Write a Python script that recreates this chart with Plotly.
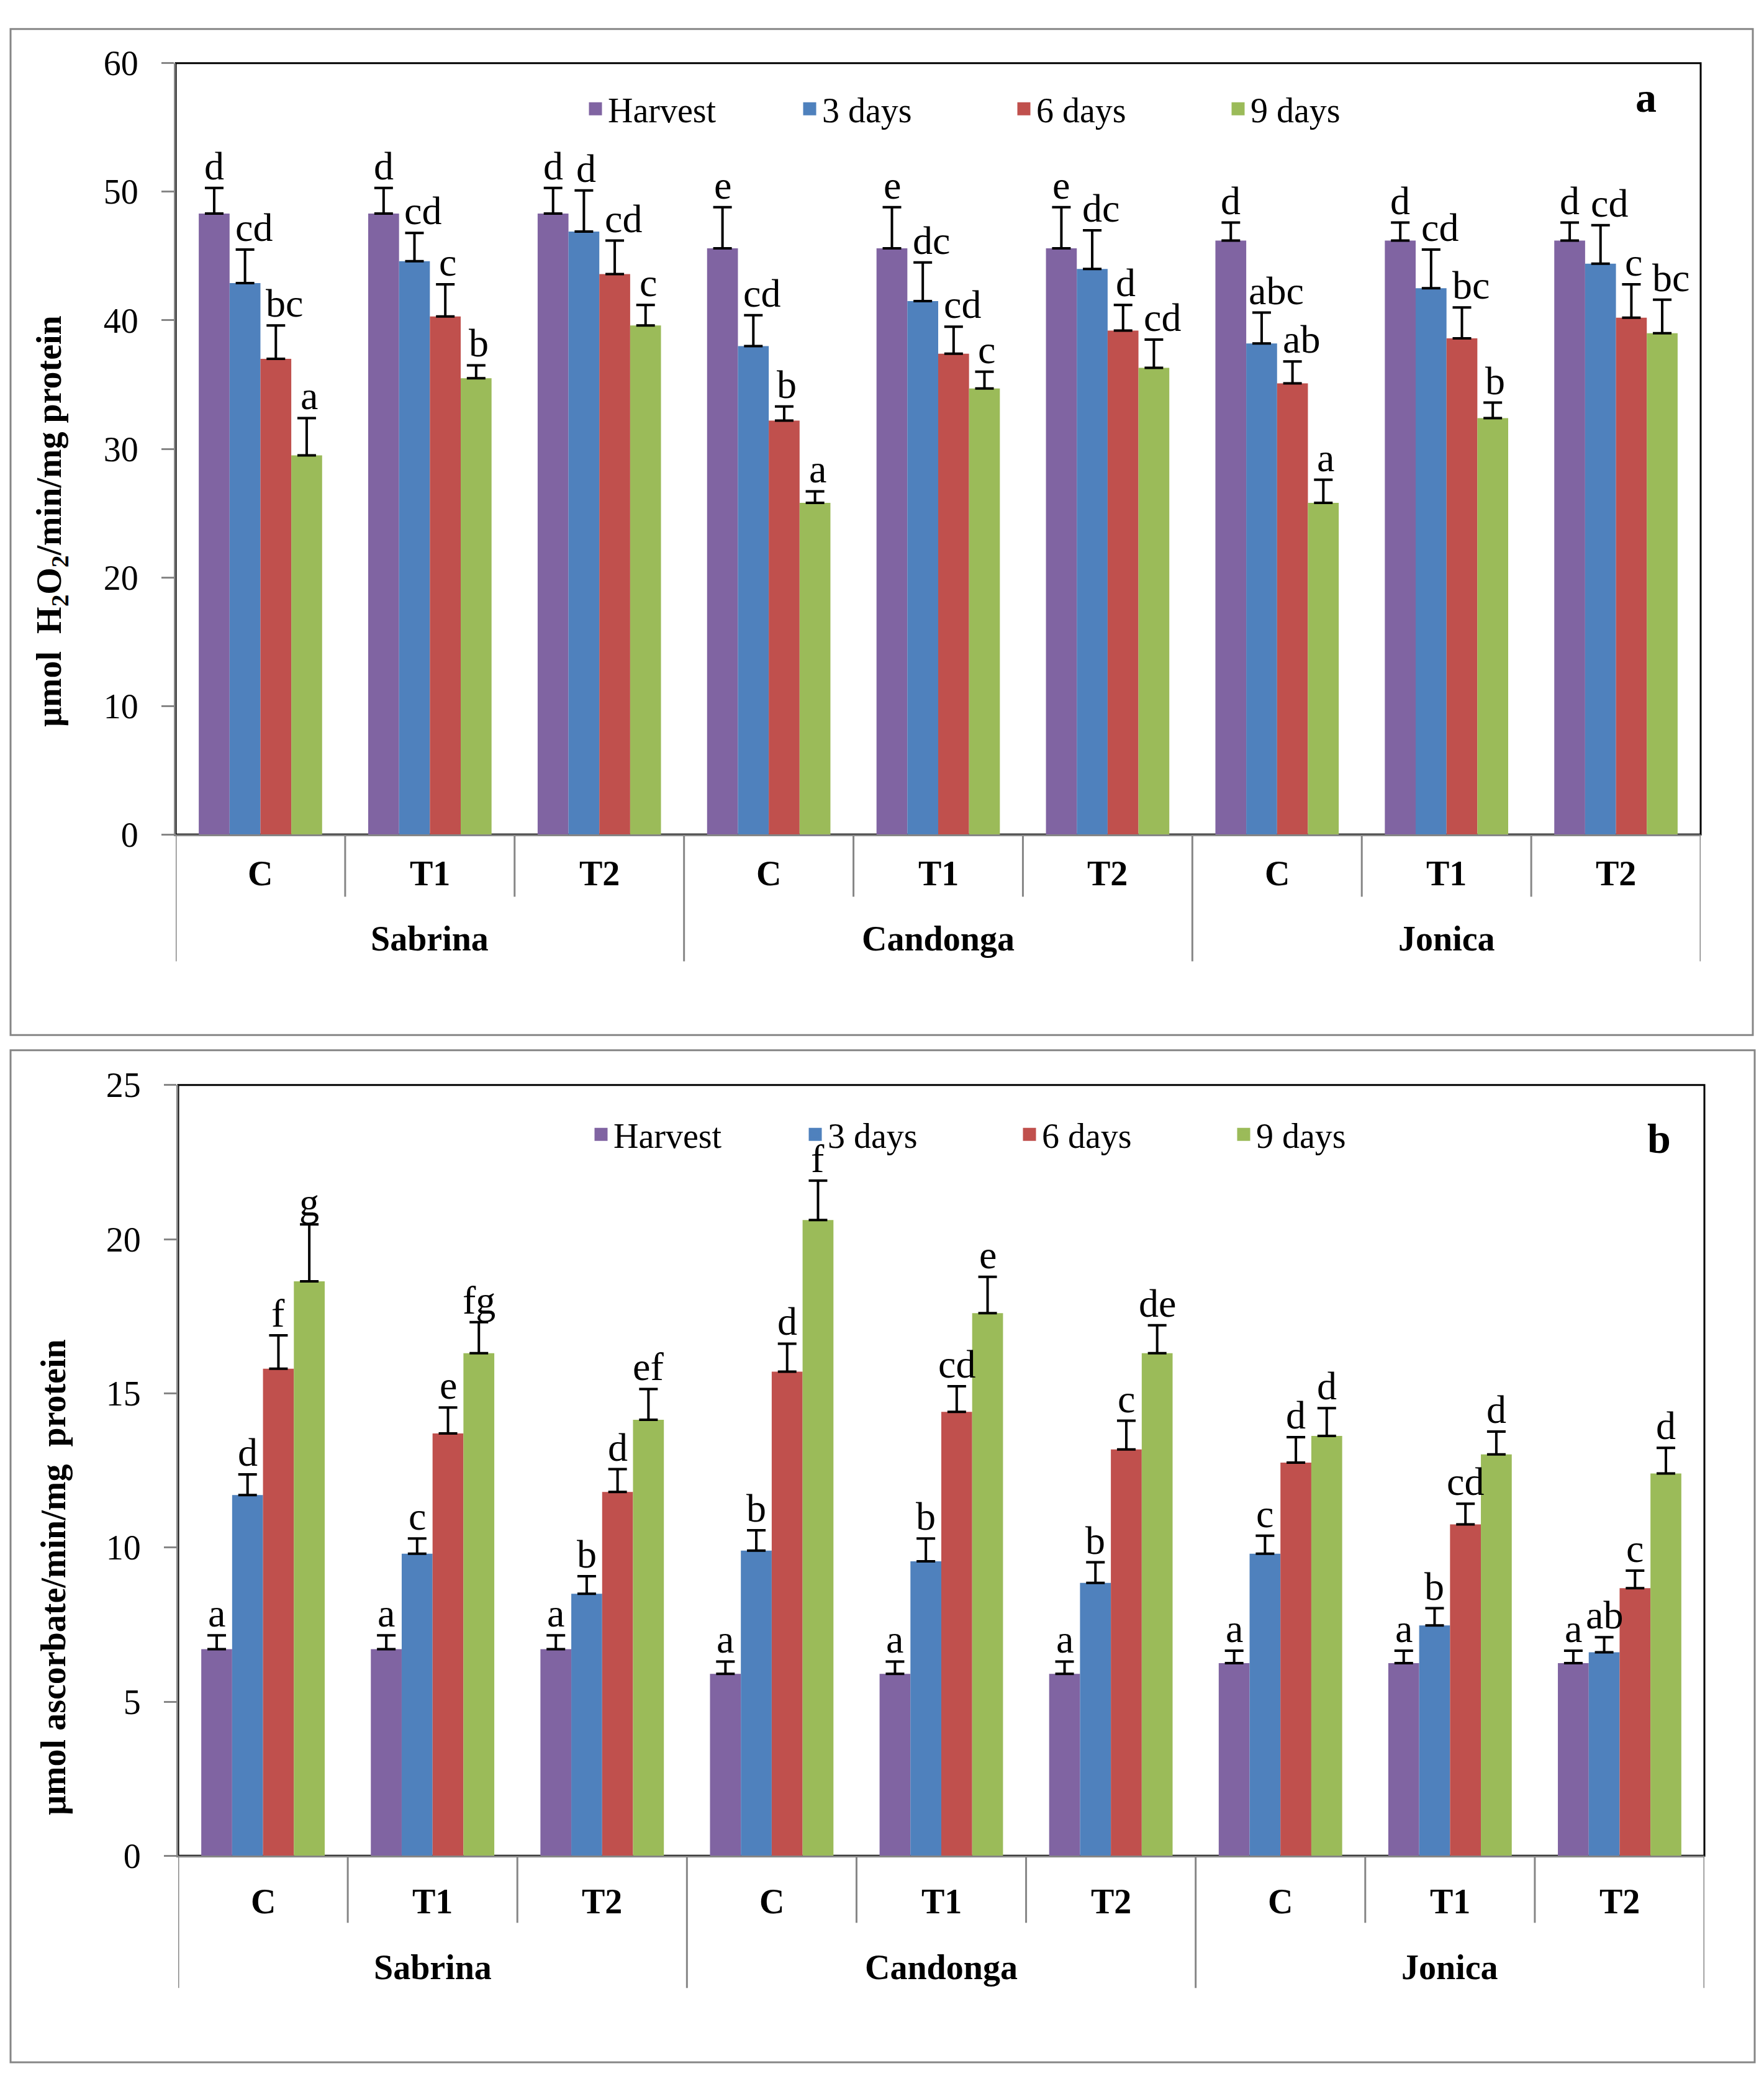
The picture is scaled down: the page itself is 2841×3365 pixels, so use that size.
import plotly.graph_objects as go

# ---------------- data ----------------
varieties = ["Sabrina", "Candonga", "Jonica"]
treatments = ["C", "T1", "T2"]
series_names = ["Harvest", "3 days", "6 days", "9 days"]

# Panel a : umol H2O2/min/mg protein
a_harvest = [48.3, 48.3, 48.3, 45.6, 45.6, 45.6, 46.2, 46.2, 46.2]
a_3days   = [42.9, 44.6, 46.9, 38.0, 41.5, 44.0, 38.2, 42.5, 44.4]
a_6days   = [37.0, 40.3, 43.6, 32.2, 37.4, 39.2, 35.1, 38.6, 40.2]
a_9days   = [29.5, 35.5, 39.6, 25.8, 34.7, 36.3, 25.8, 32.4, 39.0]
a_err_harvest = [2.0, 2.0, 2.0, 3.2, 3.2, 3.2, 1.4, 1.4, 1.4]
a_err_3days   = [2.6, 2.2, 3.2, 2.4, 3.0, 3.0, 2.4, 3.0, 3.0]
a_err_6days   = [2.6, 2.5, 2.6, 1.1, 2.1, 2.0, 1.7, 2.4, 2.6]
a_err_9days   = [2.9, 1.0, 1.6, 0.9, 1.3, 2.2, 1.8, 1.2, 2.6]
a_let_harvest = ["d", "d", "d", "e", "e", "e", "d", "d", "d"]
a_let_3days   = ["cd", "cd", "d", "cd", "dc", "dc", "abc", "cd", "cd"]
a_let_6days   = ["bc", "c", "cd", "b", "cd", "d", "ab", "bc", "c"]
a_let_9days   = ["a", "b", "c", "a", "c", "cd", "a", "b", "bc"]

# Panel b : umol ascorbate/min/mg protein
b_harvest = [6.7, 6.7, 6.7, 5.9, 5.9, 5.9, 6.25, 6.25, 6.25]
b_3days   = [11.7, 9.8, 8.5, 9.9, 9.55, 8.85, 9.8, 7.47, 6.6]
b_6days   = [15.8, 13.7, 11.8, 15.7, 14.4, 13.18, 12.75, 10.75, 8.68]
b_9days   = [18.63, 16.3, 14.14, 20.62, 17.6, 16.3, 13.62, 13.02, 12.4]
b_err_harvest = [0.45, 0.45, 0.45, 0.4, 0.4, 0.4, 0.4, 0.4, 0.4]
b_err_3days   = [0.67, 0.49, 0.57, 0.66, 0.74, 0.67, 0.58, 0.56, 0.49]
b_err_6days   = [1.08, 0.84, 0.74, 0.91, 0.83, 0.93, 0.83, 0.67, 0.57]
b_err_9days   = [1.85, 1.01, 1.0, 1.28, 1.18, 0.91, 0.9, 0.74, 0.83]
b_let_harvest = ["a"] * 9
b_let_3days   = ["d", "c", "b", "b", "b", "b", "c", "b", "ab"]
b_let_6days   = ["f", "e", "d", "d", "cd", "c", "d", "cd", "c"]
b_let_9days   = ["g", "fg", "ef", "f", "e", "de", "d", "d", "d"]

y_ticks_a = [0, 10, 20, 30, 40, 50, 60]
y_ticks_b = [0, 5, 10, 15, 20, 25]

# ---------------- styling ----------------
PAGE_W, PAGE_H = 2841, 3365
BODY_MARGIN = 8                      # default <body> margin of the written page
W, H = PAGE_W - 2 * BODY_MARGIN, PAGE_H - 2 * BODY_MARGIN
colors = ["#8064A2", "#4F81BD", "#C0504D", "#9BBB59"]
GRAY = "#868686"
FONT = "Liberation Serif"
BARGAP = 0.272

categories = [f"{v} {t}" for v in varieties for t in treatments]


def py(y):
    return 1 - (y - BODY_MARGIN) / H


def px(x):
    return (x - BODY_MARGIN) / W


panels = [
    dict(xa="x", ya="y", xd=[283, 2739], yd=[73, 1339], yr=[0, 60], ticks=y_ticks_a,
         vals=[a_harvest, a_3days, a_6days, a_9days],
         errs=[a_err_harvest, a_err_3days, a_err_6days, a_err_9days],
         lets=[a_let_harvest, a_let_3days, a_let_6days, a_let_9days],
         legend="legend", leg_x=939, leg_y=148, tag="a", tag_xy=(2651, 129),
         title="μmol\u00a0\u00a0H<sub>2</sub>O<sub>2</sub>/min/mg protein", title_xy=(83, 825),
         lab_y=1403, grp_y=1510, inner_bot=1441, outer_bot=1547, frame=(17, 17, 2823, 1668),
         shift_a=True),
    dict(xa="x2", ya="y2", xd=[287, 2745], yd=[1750, 3015], yr=[0, 25], ticks=y_ticks_b,
         vals=[b_harvest, b_3days, b_6days, b_9days],
         errs=[b_err_harvest, b_err_3days, b_err_6days, b_err_9days],
         lets=[b_let_harvest, b_let_3days, b_let_6days, b_let_9days],
         legend="legend2", leg_x=948, leg_y=1831, tag="b", tag_xy=(2672, 1838),
         title="μmol ascorbate/min/mg\u00a0\u00a0protein", title_xy=(86, 2558),
         lab_y=3090, grp_y=3198, inner_bot=3125, outer_bot=3232, frame=(17, 1693, 2826, 3354),
         shift_a=False),
]

fig = go.Figure()
annotations = []
shapes = []

for p in panels:
    plot_w = p["xd"][1] - p["xd"][0]
    bar_w = plot_w / 9 * (1 - BARGAP) / 4
    for i in range(4):
        fig.add_trace(go.Bar(
            x=categories, y=p["vals"][i], name=series_names[i],
            marker=dict(color=colors[i], line=dict(width=0)),
            error_y=dict(type="data", array=p["errs"][i], arrayminus=[0] * 9,
                         symmetric=False, color="black", thickness=4, width=15),
            showlegend=False, xaxis=p["xa"], yaxis=p["ya"],
        ))
        # legend proxies
        fig.add_trace(go.Scatter(
            x=[None], y=[None], mode="markers", name=series_names[i],
            marker=dict(symbol="square", size=16, color=colors[i],
                        line=dict(color=colors[i], width=5)),
            legend=p["legend"], xaxis=p["xa"], yaxis=p["ya"], hoverinfo="skip",
        ))
        # significance letters
        for j, cat in enumerate(categories):
            lab = p["lets"][i][j]
            extra = (4 + 10 * (len(lab) - 1)) if (p["shift_a"] and i > 0) else 0
            annotations.append(dict(
                x=cat, y=p["vals"][i][j] + p["errs"][i][j], xref=p["xa"], yref=p["ya"],
                text=lab, showarrow=False, yanchor="bottom", xanchor="center",
                xshift=(i - 1.5) * bar_w + extra, yshift=-2,
                font=dict(family=FONT, size=64, color="black"),
            ))

    # treatment and variety labels
    for j, cat in enumerate(categories):
        annotations.append(dict(
            x=cat, y=py(p["lab_y"]), xref=p["xa"], yref="paper", text=treatments[j % 3],
            showarrow=False, yanchor="middle",
            font=dict(family=FONT, size=56, color="black", weight="bold")))
    for k, v in enumerate(varieties):
        annotations.append(dict(
            x=categories[3 * k + 1], y=py(p["grp_y"]), xref=p["xa"], yref="paper", text=v,
            showarrow=False, yanchor="middle",
            font=dict(family=FONT, size=56, color="black", weight="bold")))

    # separators
    for b in [0.5, 1.5, 3.5, 4.5, 6.5, 7.5]:
        shapes.append(dict(type="line", xref=p["xa"], yref="paper", x0=b, x1=b,
                           y0=py(p["yd"][1]), y1=py(p["inner_bot"]),
                           line=dict(color=GRAY, width=3)))
    for b in [-0.5, 2.5, 5.5, 8.5]:
        shapes.append(dict(type="line", xref=p["xa"], yref="paper", x0=b, x1=b,
                           y0=py(p["yd"][1]), y1=py(p["outer_bot"]),
                           line=dict(color=GRAY, width=3)))

    # plot-area border (black) beneath gray axes
    shapes.append(dict(type="rect", xref=p["xa"] + " domain", yref=p["ya"] + " domain",
                       x0=0, x1=1, y0=0, y1=1, line=dict(color="black", width=3),
                       layer="below"))
    # chart frame
    fx0, fy0, fx1, fy1 = p["frame"]
    shapes.append(dict(type="rect", xref="paper", yref="paper",
                       x0=px(fx0), x1=px(fx1), y0=py(fy0), y1=py(fy1),
                       line=dict(color=GRAY, width=3)))

    # y title and panel tag
    annotations.append(dict(
        x=px(p["title_xy"][0]), y=py(p["title_xy"][1]), xref="paper", yref="paper",
        text=p["title"], textangle=-90, showarrow=False, xanchor="center", yanchor="middle",
        font=dict(family=FONT, size=56, color="black", weight="bold")))
    annotations.append(dict(
        x=px(p["tag_xy"][0]), y=py(p["tag_xy"][1]), xref="paper", yref="paper",
        text=p["tag"], showarrow=False, xanchor="center", yanchor="middle",
        font=dict(family=FONT, size=68, color="black", weight="bold")))

    xname = "xaxis" if p["xa"] == "x" else "xaxis2"
    yname = "yaxis" if p["ya"] == "y" else "yaxis2"
    fig.layout[xname] = dict(
        domain=[px(p["xd"][0]), px(p["xd"][1])], anchor=p["ya"], type="category",
        categoryorder="array", categoryarray=categories, range=[-0.5, 8.5],
        showticklabels=False, ticks="", showline=True, linecolor=GRAY, linewidth=3,
        showgrid=False, zeroline=False, fixedrange=True)
    fig.layout[yname] = dict(
        domain=[py(p["yd"][1]), py(p["yd"][0])], anchor=p["xa"], range=p["yr"],
        tickvals=p["ticks"], ticks="outside", ticklen=20, tickwidth=3, tickcolor=GRAY,
        showline=True, linecolor=GRAY, linewidth=3, showgrid=False, zeroline=False,
        ticklabelstandoff=26, tickfont=dict(family=FONT, size=56, color="black"),
        fixedrange=True)
    fig.layout[p["legend"]] = dict(
        orientation="h", x=px(p["leg_x"]), y=py(p["leg_y"]), xanchor="left",
        yanchor="middle", font=dict(family=FONT, size=56, color="black"),
        bgcolor="rgba(0,0,0,0)", borderwidth=0, itemsizing="trace",
        entrywidth=300, entrywidthmode="pixels", traceorder="normal")

fig.update_layout(
    width=W, height=H, margin=dict(l=0, r=0, t=0, b=0),
    paper_bgcolor="white", plot_bgcolor="white",
    barmode="group", bargap=BARGAP, bargroupgap=0,
    annotations=annotations, shapes=shapes, showlegend=True,
    font=dict(family=FONT, color="black"),
)

fig.write_html("out.html")
